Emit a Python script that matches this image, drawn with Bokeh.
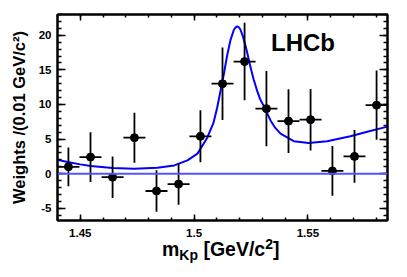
from bokeh.plotting import figure
from bokeh.models import (Range1d, SingleIntervalTicker, LinearAxis, Span, Label,
                          CustomJSTickFormatter, ColumnDataSource, Div)
from bokeh.layouts import column
from bokeh.embed import file_html
from bokeh.resources import INLINE

# ---- data ----
mass = [1.4448, 1.4545, 1.4642, 1.4738, 1.4835, 1.4932, 1.5028, 1.5125,
        1.5222, 1.5318, 1.5415, 1.5512, 1.5608, 1.5705, 1.5802]
weights = [1.0, 2.4, -0.5, 5.2, -2.5, -1.5, 5.4, 13.0, 16.2, 9.4, 7.6, 7.8, 0.4, 2.5, 9.9]
weight_err = [2.8, 3.6, 3.0, 3.6, 3.0, 3.0, 3.75, 5.25, 5.6, 5.45, 4.6, 4.45, 3.6, 3.8, 5.0]
bin_half = [0.00483] * 15

fit_mass = [1.4400, 1.4444, 1.4500, 1.4546, 1.4642, 1.4737, 1.4839, 1.4913, 1.4971,
            1.5015, 1.5058, 1.5085, 1.5102, 1.5131, 1.5145, 1.5160, 1.5175, 1.5183,
            1.5190, 1.5197, 1.5204, 1.5215, 1.5226, 1.5237, 1.5248, 1.5262, 1.5277,
            1.5290, 1.5306, 1.5336, 1.5355, 1.5380, 1.5438, 1.5504, 1.5585, 1.5687,
            1.5761, 1.5850]
fit_value = [2.03, 1.70, 1.35, 1.10, 0.82, 0.72, 0.87, 1.20, 1.93,
             2.90, 5.20, 7.30, 9.60, 14.4, 17.0, 19.3, 20.8, 21.15,
             21.3, 21.15, 20.8, 19.8, 18.5, 17.0, 15.4, 13.6, 12.0,
             10.8, 9.8, 7.7, 6.7, 5.8, 4.7, 4.45, 4.7, 5.4,
             6.05, 6.8]

x_ticks_major = 0.05
y_ticks_major = 5
y_title = "Weights /(0.01 GeV/c²)"

FONT = "Liberation Sans"
W, H = 399, 242

src = ColumnDataSource(dict(
    x=mass, y=weights,
    y0=[w - e for w, e in zip(weights, weight_err)],
    y1=[w + e for w, e in zip(weights, weight_err)],
    x0=[m - h for m, h in zip(mass, bin_half)],
    x1=[m + h for m, h in zip(mass, bin_half)],
))

p = figure(width=W, height=H, output_backend="svg", toolbar_location=None,
           x_range=Range1d(1.44, 1.585), y_range=Range1d(-6.76, 23.0),
           min_border_left=57, min_border_right=12, min_border_top=14,
           min_border_bottom=22, x_axis_location=None, y_axis_location=None)
p.grid.visible = False
p.outline_line_color = "black"
p.outline_line_width = 2
p.background_fill_color = "white"
p.border_fill_color = "white"

label_fmt = CustomJSTickFormatter(code="return String(Math.round(tick * 1000) / 1000);")
blank_fmt = CustomJSTickFormatter(code="return '';")


def style_axis(ax):
    ax.axis_line_width = 2
    ax.axis_line_color = "black"
    ax.major_tick_in = 8
    ax.major_tick_out = 0
    ax.minor_tick_in = 4
    ax.minor_tick_out = 0
    ax.major_tick_line_width = 1.5
    ax.minor_tick_line_width = 1.5
    ax.major_label_text_font = FONT
    ax.major_label_text_font_style = "bold"
    ax.major_label_text_color = "black"
    ax.major_label_text_font_size = "11.5px"


xb = LinearAxis(ticker=SingleIntervalTicker(interval=x_ticks_major, num_minor_ticks=5),
                formatter=label_fmt)
style_axis(xb)
xb.major_tick_in = 6
xb.minor_tick_in = 3
xb.major_label_standoff = 8
p.add_layout(xb, "below")

xt = LinearAxis(ticker=SingleIntervalTicker(interval=x_ticks_major, num_minor_ticks=5),
                formatter=blank_fmt)
style_axis(xt)
xt.major_tick_in = 6
xt.minor_tick_in = 3
xt.major_label_standoff = 0
p.add_layout(xt, "above")

yl = LinearAxis(ticker=SingleIntervalTicker(interval=y_ticks_major, num_minor_ticks=5),
                formatter=label_fmt, axis_label=y_title)
style_axis(yl)
yl.major_label_standoff = 6
yl.axis_label_standoff = 8
yl.axis_label_text_font = FONT
yl.axis_label_text_font_style = "bold"
yl.axis_label_text_font_size = "16.5px"
yl.axis_label_text_color = "black"
p.add_layout(yl, "left")

yr = LinearAxis(ticker=SingleIntervalTicker(interval=y_ticks_major, num_minor_ticks=5),
                formatter=blank_fmt)
style_axis(yr)
yr.major_label_standoff = 0
p.add_layout(yr, "right")

# zero line
p.add_layout(Span(location=0, dimension="width", line_color="#5555ff", line_width=2))

# fit curve
p.line(fit_mass, fit_value, line_color="#0000ff", line_width=2)

# data points with error bars
p.segment(x0="x", y0="y0", x1="x", y1="y1", source=src, line_color="black", line_width=1.8)
p.segment(x0="x0", y0="y", x1="x1", y1="y", source=src, line_color="black", line_width=1.8)
p.scatter(x="x", y="y", source=src, size=8, marker="circle",
          fill_color="black", line_color="black")

p.add_layout(Label(x=1.5338, y=16.97, text="LHCb", text_font=FONT, text_font_style="bold",
                   text_font_size="24px", text_color="black"))

# x-axis title with sub/superscript as real HTML text
x_title = ('<div style="padding-left:162px;padding-top:2px;white-space:nowrap;'
           "font-family:'Liberation Sans';font-weight:bold;font-size:19.5px;"
           'line-height:10px;color:black;">'
           'm<span style="font-size:14px;position:relative;top:4px;">Kp</span>'
           ' [GeV/c<span style="font-size:14px;position:relative;top:-7px;">2</span>]'
           '</div>')
xdiv = Div(text=x_title, width=W, height=30, margin=0)

layout = column(p, xdiv, spacing=0)

open("out.html", "w").write(file_html(layout, INLINE))
